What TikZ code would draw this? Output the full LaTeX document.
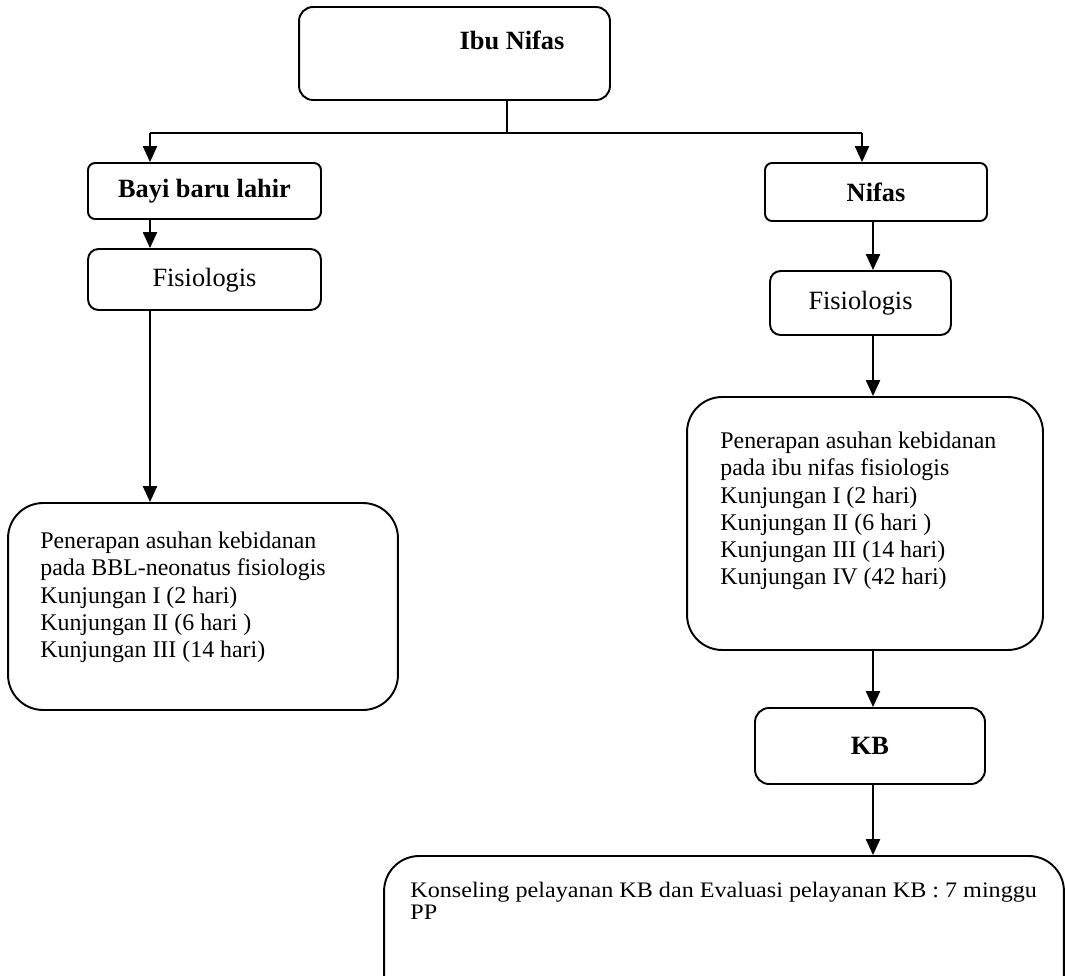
\documentclass[tikz,border=0pt]{standalone}
\usepackage{fontspec}
\setmainfont{Liberation Serif}
\newfontfamily\lebar[FakeStretch=1.09]{Liberation Serif}
\usepackage{tikz}
\usetikzlibrary{arrows.meta, positioning, calc}

\tikzset{
  kotak/.style={draw, line width=1.1pt, rounded corners=#1, inner sep=0pt},
  kotak/.default=4pt,
  judul/.style={font=\fontsize{15}{18}\selectfont\bfseries},
  isi/.style={font=\fontsize{13.6}{15.4}\selectfont, align=left, inner sep=0pt, anchor=north west},
  panah/.style={line width=0.9pt, -{Triangle[width=8pt, length=9pt]}}
}

\begin{document}
\begin{tikzpicture}[x=0.02cm, y=-0.02cm]
    \useasboundingbox (0,0) rectangle (1065,976);
    \clip (0,0) rectangle (1065,976);
    % kotak atas
    \node[kotak=8pt, minimum width=6.22cm, minimum height=1.86cm] (ibu) at (454.5,53.5) {};
    \node[judul] (ibuteks) at (512,40) {Ibu Nifas};
    % cabang kiri
    \node[kotak, minimum width=4.66cm, minimum height=1.12cm, judul] (bayi) at (204.5,191) {Bayi baru lahir};
    \node[kotak=6pt, minimum width=4.66cm, minimum height=1.22cm, font=\fontsize{15}{18}\selectfont, text depth=0.5ex] (fisL) at (204.5,279.5) {Fisiologis};
    \node[kotak=20pt, minimum width=7.8cm, minimum height=4.14cm] (asuhL) at (203,606.5) {};
    \node[isi] (asuhLteks) at (40,532) {Penerapan asuhan kebidanan\\pada BBL-neonatus fisiologis\\Kunjungan I (2 hari)\\Kunjungan II (6 hari )\\Kunjungan III (14 hari)};
    % cabang kanan
    \node[kotak, minimum width=4.44cm, minimum height=1.16cm, judul] (nifas) at (876,192) {Nifas};
    \node[kotak=6pt, minimum width=3.62cm, minimum height=1.28cm, font=\fontsize{15}{18}\selectfont] (fisR) at (860.5,303) {Fisiologis};
    \node[kotak=20pt, minimum width=7.12cm, minimum height=5.06cm] (asuhR) at (865,523.5) {};
    \node[isi] (asuhRteks) at (720,432) {Penerapan asuhan kebidanan\\pada ibu nifas fisiologis\\Kunjungan I (2 hari)\\Kunjungan II (6 hari )\\Kunjungan III (14 hari)\\Kunjungan IV (42 hari)};
    \node[kotak=8pt, minimum width=4.6cm, minimum height=1.52cm, judul] (kb) at (870,746) {KB};
    \node[kotak=20pt, minimum width=13.6cm, minimum height=3.4cm] (kons) at (724,941) {};
    \node[isi, font=\lebar\fontsize{12.6}{12.4}\selectfont] (konsteks) at (410,882) {Konseling pelayanan KB dan Evaluasi pelayanan KB : 7 minggu\\PP};
    % percabangan
    \coordinate (pusat) at (507,133);
    \coordinate (kiri) at (150,133);
    \coordinate (kanan) at (862,133);
    \coordinate (jalur) at (873,0);
    \draw[line width=0.9pt] (pusat |- ibu.south) -- (pusat);
    \draw[line width=0.9pt] (kiri) -- (kanan);
    \draw[panah] (kiri) -- (kiri |- bayi.north);
    \draw[panah] (kanan) -- (kanan |- nifas.north);
    \draw[panah] (kiri |- bayi.south) -- (kiri |- fisL.north);
    \draw[panah] (kiri |- fisL.south) -- (kiri |- asuhL.north);
    \draw[panah] (jalur |- nifas.south) -- (jalur |- fisR.north);
    \draw[panah] (jalur |- fisR.south) -- (jalur |- asuhR.north);
    \draw[panah] (jalur |- asuhR.south) -- (jalur |- kb.north);
    \draw[panah] (jalur |- kb.south) -- (jalur |- kons.north);
  \end{tikzpicture}
\end{document}
